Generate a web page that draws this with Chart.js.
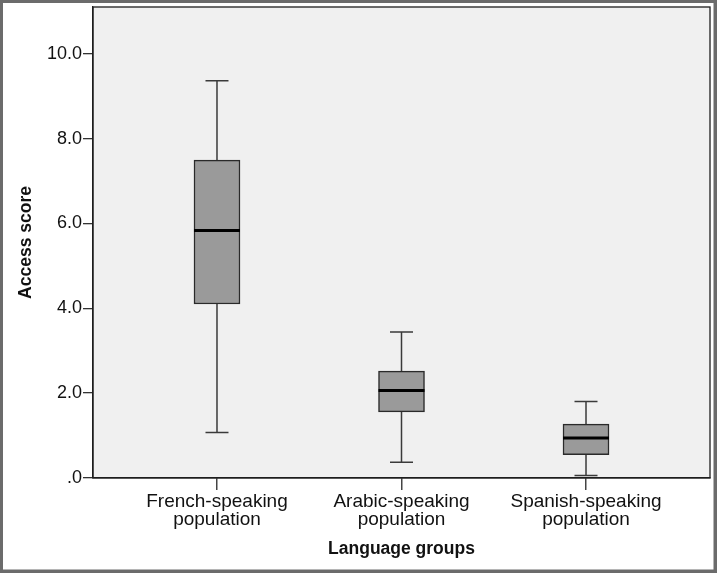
<!DOCTYPE html>
<html>
<head>
<meta charset="utf-8">
<title>Access score by language group</title>
<script src="https://cdn.jsdelivr.net/npm/chart.js@4.4.0/dist/chart.umd.min.js"></script>
<style>
  html, body { margin: 0; padding: 0; background: #ffffff; }
  canvas { display: block; }
</style>
</head>
<body>
<canvas id="boxChart" width="717" height="573"></canvas>
<script>
// valores (cuartiles y bigotes)
const groups = [['French-speaking', 'population'], ['Arabic-speaking', 'population'], ['Spanish-speaking', 'population']];
const whiskerLow = [1.07, 0.37, 0.06];
const q1 = [4.10, 1.56, 0.55];
const median = [5.83, 2.06, 0.94];
const q3 = [7.49, 2.52, 1.27];
const whiskerHigh = [9.36, 3.44, 1.80];
const yTicks = [0, 2, 4, 6, 8, 10];

const fontFamily = "'Liberation Sans', Arial, sans-serif";

const boxData = groups.map((g, i) => ({ x: i, y: [q1[i], q3[i]] }));

// fondo, marco exterior y area gris
const backgroundPlugin = {
    id: 'background',
    beforeDraw(chart) {
        const ctx = chart.ctx;
        const a = chart.chartArea;
        ctx.save();
        ctx.fillStyle = '#6b6b6b';
        ctx.fillRect(0, 0, chart.width, chart.height);
        ctx.fillStyle = '#ffffff';
        ctx.fillRect(3, 3, chart.width - 6.5, chart.height - 6.5);
        ctx.fillStyle = '#f0f0f0';
        ctx.fillRect(a.left, a.top, a.right - a.left, a.bottom - a.top);
        ctx.restore();
    },
    afterDraw(chart) {
        const ctx = chart.ctx;
        const a = chart.chartArea;
        ctx.save();
        ctx.strokeStyle = '#1e1e1e';
        ctx.lineWidth = 1.3;
        ctx.strokeRect(a.left, a.top, a.right - a.left, a.bottom - a.top);
        ctx.restore();
    }
};

// bigotes y mediana
const boxPlugin = {
    id: 'boxParts',
    beforeDatasetsDraw(chart) {
        const ctx = chart.ctx;
        const x = chart.scales.x;
        const y = chart.scales.y;
        ctx.save();
        ctx.strokeStyle = '#3a3a3a';
        ctx.lineWidth = 1.5;
        for (let i = 0; i < groups.length; i++) {
            const cx = x.getPixelForValue(i);
            const capHalf = 11.5;
            ctx.beginPath();
            ctx.moveTo(cx, y.getPixelForValue(whiskerHigh[i]));
            ctx.lineTo(cx, y.getPixelForValue(q3[i]));
            ctx.moveTo(cx, y.getPixelForValue(q1[i]));
            ctx.lineTo(cx, y.getPixelForValue(whiskerLow[i]));
            ctx.moveTo(cx - capHalf, y.getPixelForValue(whiskerHigh[i]));
            ctx.lineTo(cx + capHalf, y.getPixelForValue(whiskerHigh[i]));
            ctx.moveTo(cx - capHalf, y.getPixelForValue(whiskerLow[i]));
            ctx.lineTo(cx + capHalf, y.getPixelForValue(whiskerLow[i]));
            ctx.stroke();
        }
        ctx.restore();
    },
    afterDatasetsDraw(chart) {
        const ctx = chart.ctx;
        const y = chart.scales.y;
        const meta = chart.getDatasetMeta(0);
        ctx.save();
        ctx.strokeStyle = '#000000';
        ctx.lineWidth = 3;
        meta.data.forEach((bar, i) => {
            const my = y.getPixelForValue(median[i]);
            ctx.beginPath();
            ctx.moveTo(bar.x - bar.width / 2, my);
            ctx.lineTo(bar.x + bar.width / 2, my);
            ctx.stroke();
        });
        ctx.restore();
    }
};

const ctx = document.getElementById('boxChart').getContext('2d');
new Chart(ctx, {
    type: 'bar',
    data: {
        datasets: [{
            label: 'Access score',
            data: boxData,
            backgroundColor: '#9a9a9a',
            borderColor: '#2a2a2a',
            borderWidth: 1.5,
            borderSkipped: false,
            barThickness: 46
        }]
    },
    options: {
        responsive: false,
        animation: false,
        devicePixelRatio: 1,
        layout: { padding: { left: 0, top: 7, right: 7, bottom: 0 } },
        plugins: {
            legend: { display: false },
            tooltip: { enabled: false }
        },
        scales: {
            x: {
                type: 'linear',
                offset: false,
                min: -0.672,
                max: 2.672,
                afterBuildTicks(scale) {
                    scale.ticks = groups.map((g, i) => ({ value: i }));
                },
                afterFit(scale) {
                    scale.height = 95;
                    scale.paddingLeft = 0;
                    scale.paddingRight = 0;
                },
                ticks: {
                    callback: (v) => groups[v],
                    color: '#111111',
                    padding: 2.5,
                    maxRotation: 0,
                    autoSkip: false,
                    font: { family: fontFamily, size: 19, lineHeight: 0.95 }
                },
                grid: {
                    offset: false,
                    drawOnChartArea: false,
                    drawTicks: true,
                    tickLength: 12,
                    color: '#444444',
                    lineWidth: 1.5
                },
                border: { display: true, color: '#1e1e1e', width: 1.3 },
                title: {
                    display: true,
                    text: 'Language groups',
                    color: '#111111',
                    padding: { top: 0, bottom: 13.5 },
                    font: { family: fontFamily, size: 17.5, weight: 'bold' }
                }
            },
            y: {
                min: 0,
                max: 11.1,
                afterBuildTicks(scale) {
                    scale.ticks = yTicks.map(v => ({ value: v }));
                },
                afterFit(scale) {
                    scale.width = 93;
                    scale.paddingTop = 0;
                    scale.paddingBottom = 0;
                },
                ticks: {
                    callback: (v) => v === 0 ? '.0' : v.toFixed(1),
                    color: '#111111',
                    padding: 1,
                    font: { family: fontFamily, size: 18 }
                },
                grid: {
                    drawOnChartArea: false,
                    drawTicks: true,
                    tickLength: 10,
                    color: '#333333',
                    lineWidth: 1.3
                },
                border: { display: true, color: '#1e1e1e', width: 1.3 },
                title: {
                    display: true,
                    text: 'Access score',
                    color: '#111111',
                    padding: { top: 15.5, bottom: 0 },
                    font: { family: fontFamily, size: 17.5, weight: 'bold' }
                }
            }
        }
    },
    plugins: [backgroundPlugin, boxPlugin]
});
</script>
</body>
</html>
